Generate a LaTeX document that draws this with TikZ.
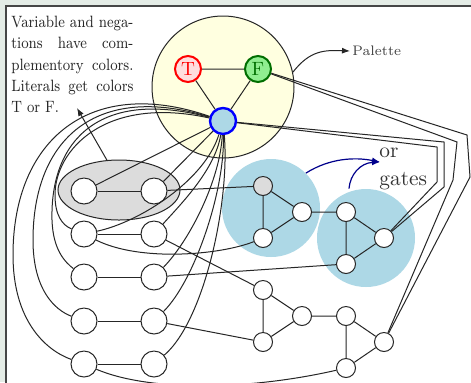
\documentclass[tikz,border=0pt]{standalone}
\usetikzlibrary{shapes.geometric,arrows.meta}
\definecolor{bgframe}{RGB}{228,236,230}
\definecolor{framel}{RGB}{70,70,70}
\definecolor{lyellow}{RGB}{255,255,224}
\definecolor{lblue}{RGB}{173,216,230}
\definecolor{lgreen}{RGB}{144,238,144}
\definecolor{dgreen}{RGB}{0,110,0}
\definecolor{tpink}{RGB}{255,222,222}
\definecolor{navyc}{RGB}{0,0,140}
\definecolor{varg}{RGB}{220,220,220}
\newcommand{\noteline}[1]{\scalebox{0.85}[1]{\makebox[71.76pt][s]{#1}}}
\begin{document}
\begin{tikzpicture}[x=0.5pt,y=-0.5pt,
  lit/.style={circle,draw=black!85,fill=white,minimum size=13pt,inner sep=0pt,line width=0.5pt},
  gn/.style={circle,draw=black!85,fill=white,minimum size=9.5pt,inner sep=0pt,line width=0.5pt},
  edge/.style={draw=black!85,line width=0.5pt},
  blob/.style={circle,fill=lblue,minimum size=49pt,inner sep=0pt},
  tip/.style={-{Latex[length=4pt,width=3pt]}}]
\useasboundingbox (0,0) rectangle (471,382);
\fill[bgframe] (0,0) rectangle (471,382);
\fill[white] (6,6) rectangle (480,390);
\draw[framel,line width=0.6pt] (6,390) -- (6,6) -- (480,6);
% text
\node (note) [anchor=north west,inner sep=0pt,align=left,font=\fontsize{8.2}{10.6}\selectfont,text=black!85] at (11,16)
 {\noteline{Variable and nega-}\\\noteline{tions have com-}\\\noteline{plementory colors.}\\\noteline{Literals get colors}\\\scalebox{0.85}[1]{T or F.}};
\coordinate (notearrow) at (77,108);
% palette
\node (pal) [circle,draw=black!85,fill=lyellow,minimum size=71pt,inner sep=0pt,line width=0.5pt] at (223,87) {};
\node (ptext) [anchor=west,inner sep=1pt,font=\fontsize{6.9}{8}\selectfont,text=black!75] at (350,51) {Palette};
% variable ellipse
\node (varbox) [ellipse,draw=black!85,fill=varg,minimum width=61pt,minimum height=30pt,line width=0.5pt] at (119,190) {};
% gate blobs
\node (g1) [blob] at (271,208) {};
\node (g2) [blob] at (366,238) {};
% or gates text
\node (orgates) [anchor=north west,inner sep=0pt,align=left,font=\fontsize{10.7}{14}\selectfont,text=black!80] at (379,148) {or\\gates};
\coordinate (ortip) at (380,162);
% palette nodes
\node (T) [circle,draw=red,fill=tpink,line width=1pt,minimum size=13pt,inner sep=0pt,text=red,font=\fontsize{9.6}{10}\selectfont] at (188,69) {T};
\node (F) [circle,draw=dgreen,fill=lgreen,line width=1pt,minimum size=13pt,inner sep=0pt,text=dgreen,font=\fontsize{9.6}{10}\selectfont] at (258,69) {F};
\node (B) [circle,draw=blue,fill=lblue,line width=1.2pt,minimum size=13pt,inner sep=0pt] at (223,121) {};
% literals
\foreach \r/\y in {1/191,2/234,3/277,4/321,5/364}{
  \node (L\r a) [lit] at (84,\y) {};
  \node (L\r b) [lit] at (154,\y) {};
}
% gates
\node (a1) [gn,fill=varg] at (263,186) {};
\node (a2) [gn] at (302,212) {};
\node (a3) [gn] at (263,238) {};
\node (b1) [gn] at (346,212) {};
\node (b2) [gn] at (384,238) {};
\node (b3) [gn] at (346,264) {};
\node (c1) [gn] at (263,290) {};
\node (c2) [gn] at (302,316) {};
\node (c3) [gn] at (263,342) {};
\node (d1) [gn] at (346,316) {};
\node (d2) [gn] at (384,342) {};
\node (d3) [gn] at (346,368) {};
% edges
\draw[edge] (T) -- (F) (T) -- (B) (F) -- (B);
\foreach \r in {1,...,5}{ \draw[edge] (L\r a) -- (L\r b); }
\draw[edge] (L1a) -- (B) (L1b) -- (B);
\draw[edge] (a1) -- (a2) (a1) -- (a3) (a3) -- (a2) (a2) -- (b1) (b1) -- (b3) (b1) -- (b2) (b3) -- (b2);
\draw[edge] (c1) -- (c2) (c1) -- (c3) (c3) -- (c2) (c2) -- (d1) (d1) -- (d3) (d1) -- (d2) (d3) -- (d2);
\draw[edge] (L1b) -- (a1);
\draw[edge] (L2a) .. controls (140,262) and (220,255) .. (a3);
\draw[edge] (L2b) -- (c1);
\draw[edge] (L3b) -- (b3);
\draw[edge] (L4b) -- (c3);
\draw[edge] (L5a) .. controls (150,392) and (250,390) .. (d3);
% fan from B
\draw[edge] (B) .. controls (205,180) and (140,222) .. (L2a);
\draw[edge] (B) .. controls (215,170) and (180,205) .. (L2b);
\draw[edge] (B) .. controls (220,180) and (190,240) .. (L3b);
\draw[edge] (B) .. controls (225,190) and (195,280) .. (L4b);
\draw[edge] (B) .. controls (230,200) and (205,320) .. (L5b);
% left arcs
\draw[edge] (B) .. controls (90,75) and (13,140) .. (13,255) .. controls (13,320) and (45,350) .. (L5a);
\draw[edge] (B) .. controls (95,82) and (33,140) .. (33,240) .. controls (33,290) and (55,310) .. (L4a);
\draw[edge] (B) .. controls (100,88) and (50,140) .. (52,220) .. controls (53,250) and (65,262) .. (L3a);
\draw[edge] (B) .. controls (105,95) and (55,150) .. (55,195) .. controls (55,215) and (62,225) .. (L2a);
% right polylines
\draw[edge] (F) -- (467,135) -- (470,177) -- (d2);
\draw[edge] (F) -- (457,142) -- (453,180) -- (d2);
\draw[edge] (B) -- (444,142) -- (444,187) -- (b2);
\draw[edge] (B) -- (437,147) -- (437,182) -- (b2);
% arrows
\draw[black!85,line width=0.5pt,tip] (varbox.112) -- (notearrow);
\draw[black!85,line width=0.5pt,tip] (pal.12) .. controls (310,50) and (325,50) .. (ptext.west);
\draw[navyc,line width=0.6pt,tip] (g1.north east) .. controls (330,158) and (355,157) .. (ortip);
\draw[navyc,line width=0.6pt,tip] (g2.north) ++(-17,0) .. controls (350,175) and (360,163) .. (ortip);
\end{tikzpicture}
\end{document}
